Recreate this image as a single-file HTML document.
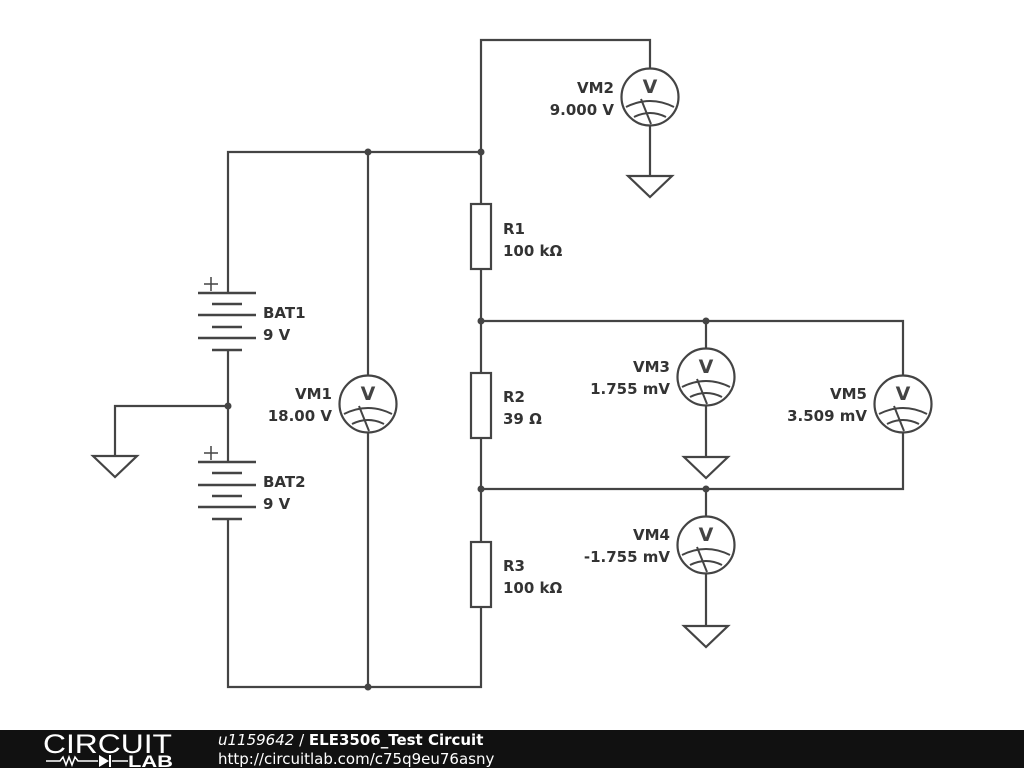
<!DOCTYPE html>
<html><head><style>
body{margin:0;width:1024px;height:768px;background:#fff;overflow:hidden}
svg{display:block}
text{font-family:"DejaVu Sans","Liberation Sans",sans-serif;font-weight:bold;font-size:15px;fill:#333}
</style></head><body>
<svg width="1024" height="768" viewBox="0 0 1024 768">
<defs>
<g id="vm">
<circle cx="0" cy="0" r="28.5" fill="#fff" stroke="#444" stroke-width="2.2"/>
<text x="0" y="-4" text-anchor="middle" style="font-size:19px;font-weight:bold;fill:#444">V</text>
<path d="M-24,10 Q0,-2 24,10" fill="none" stroke="#444" stroke-width="2"/>
<path d="M-16,20 Q0,12 16,20" fill="none" stroke="#444" stroke-width="2"/>
<line x1="-9" y1="2" x2="1" y2="27" stroke="#444" stroke-width="2"/>
</g>
<g id="gnd"><path d="M-22,0 H22 L0,21 Z" fill="#fff" stroke="#444" stroke-width="2.2"/></g>
</defs>
<g stroke="#444" stroke-width="2.2" fill="none">
<path d="M228,293 V152 H481 V687 H228 V519"/>
<path d="M228,350 V462"/>
<path d="M481,152 V40 H650 V68"/>
<path d="M650,126 V176"/>
<path d="M368,152 V687"/>
<path d="M481,321 H903 V375"/>
<path d="M706,321 V348"/>
<path d="M706,406 V457"/>
<path d="M481,489 H903 V433"/>
<path d="M706,489 V516"/>
<path d="M706,574 V626"/>
<path d="M228,406 H115 V456"/>
<path d="M198,293H256M212,304H242M198,315H256M212,327H242M198,338H256M212,350H242" stroke-width="2.5"/>
<path d="M198,462H256M212,473H242M198,485H256M212,496H242M198,507H256M212,519H242" stroke-width="2.5"/>
<path d="M204,284H218M211,277V291M204,453H218M211,446V460" stroke-width="1.5"/>
</g>
<g fill="#fff" stroke="#444" stroke-width="2.2">
<rect x="471" y="204" width="20" height="65"/>
<rect x="471" y="373" width="20" height="65"/>
<rect x="471" y="542" width="20" height="65"/>
</g>
<g fill="#444">
<circle cx="368" cy="152" r="3.5"/><circle cx="481" cy="152" r="3.5"/>
<circle cx="481" cy="321" r="3.5"/><circle cx="706" cy="321" r="3.5"/>
<circle cx="228" cy="406" r="3.5"/><circle cx="481" cy="489" r="3.5"/>
<circle cx="706" cy="489" r="3.5"/><circle cx="368" cy="687" r="3.5"/>
</g>
<use href="#vm" x="650" y="97"/>
<use href="#vm" x="368" y="404"/>
<use href="#vm" x="706" y="377"/>
<use href="#vm" x="903" y="404"/>
<use href="#vm" x="706" y="545"/>
<use href="#gnd" x="650" y="176"/>
<use href="#gnd" x="115" y="456"/>
<use href="#gnd" x="706" y="457"/>
<use href="#gnd" x="706" y="626"/>
<text x="263" y="318">BAT1</text><text x="263" y="340">9 V</text>
<text x="263" y="487">BAT2</text><text x="263" y="509">9 V</text>
<text x="503" y="234">R1</text><text x="503" y="256">100 kΩ</text>
<text x="503" y="402">R2</text><text x="503" y="424">39 Ω</text>
<text x="503" y="571">R3</text><text x="503" y="593">100 kΩ</text>
<g text-anchor="end">
<text x="614" y="93">VM2</text><text x="614" y="115">9.000 V</text>
<text x="332" y="399">VM1</text><text x="332" y="421">18.00 V</text>
<text x="670" y="372">VM3</text><text x="670" y="394">1.755 mV</text>
<text x="867" y="399">VM5</text><text x="867" y="421">3.509 mV</text>
<text x="670" y="540">VM4</text><text x="670" y="562">-1.755 mV</text>
</g>
<rect x="0" y="730" width="1024" height="38" fill="#111"/>
<text x="43" y="753" textLength="129" lengthAdjust="spacingAndGlyphs" style="font-family:'Liberation Sans',sans-serif;font-size:27px;font-weight:normal;fill:#fff">CIRCUIT</text>
<g stroke="#fff" stroke-width="1.5" fill="none"><path d="M46,761H60L63,757L66,765L69,757L72,765L75,757L78,761H98M112,761H128"/></g>
<path d="M99,755L109,761L99,767Z" fill="#fff"/><path d="M110,755V767" stroke="#fff" stroke-width="2"/>
<text x="128" y="767" textLength="45" lengthAdjust="spacingAndGlyphs" style="font-family:'Liberation Sans',sans-serif;font-size:17px;font-weight:bold;fill:#fff">LAB</text>
<text x="218" y="745" style="font-size:15px;font-weight:normal;fill:#fff"><tspan font-style="italic">u1159642</tspan> / <tspan font-weight="bold">ELE3506_Test Circuit</tspan></text>
<text x="218" y="764" style="font-size:15px;font-weight:normal;fill:#fff">http://circuitlab.com/c75q9eu76asny</text>
</svg>
</body></html>
